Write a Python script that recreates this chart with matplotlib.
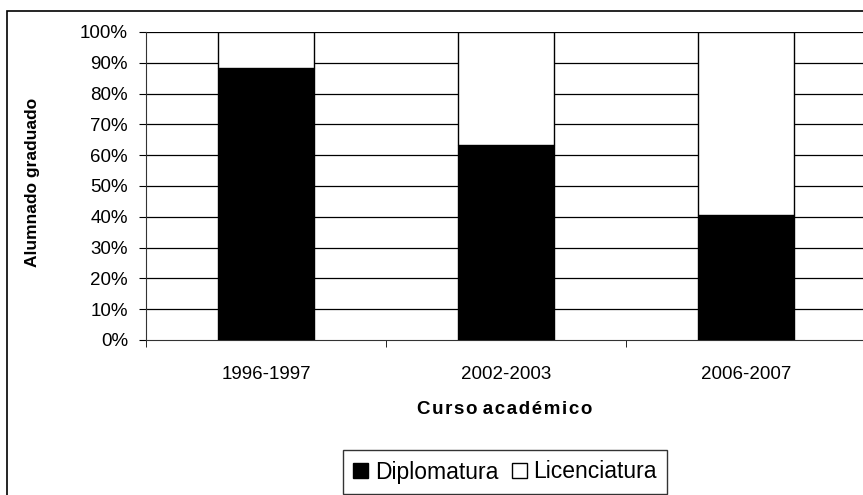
import matplotlib
matplotlib.use('Agg')
import matplotlib.pyplot as plt
from matplotlib.patches import Patch, Rectangle

plt.rcParams['font.family'] = ['Liberation Sans', 'DejaVu Sans']

# Datos
cursos = ['1996-1997', '2002-2003', '2006-2007']
diplomatura = [88.3, 63.2, 40.7]
licenciatura = [100 - v for v in diplomatura]
y_ticks = list(range(0, 101, 10))
y_labels = [f'{t}%' for t in y_ticks]

fig = plt.figure(figsize=(8.63, 4.95), dpi=100)
W, H = 863, 495
ax = fig.add_axes([146 / W, 1 - 340 / H, 720 / W, 308 / H])

# Marco exterior del gráfico
fig.patches.append(Rectangle((7 / W, -0.1), 1.2, 1 - 11 / H + 0.1,
                             transform=fig.transFigure, fill=False,
                             edgecolor='black', linewidth=1.2))

x = [i + 0.5 for i in range(len(cursos))]
ax.bar(x, diplomatura, width=0.4, color='black', edgecolor='black',
       linewidth=1, zorder=3)
ax.bar(x, licenciatura, width=0.4, bottom=diplomatura, color='white',
       edgecolor='black', linewidth=1, zorder=3)

ax.set_xlim(0, 3)
ax.set_ylim(0, 100)
ax.set_yticks(y_ticks)
ax.set_yticklabels(y_labels, fontsize=13.5)
ax.set_xticks(x)
ax.set_xticklabels(cursos, fontsize=13.5)
ax.set_xticks([0, 1, 2, 3], minor=True)
ax.tick_params(axis='x', which='major', length=0, pad=19)
ax.tick_params(axis='x', which='minor', length=5, direction='out')
ax.tick_params(axis='y', length=5, direction='out', pad=8)

for t in y_ticks[1:]:
    ax.axhline(t, color='black', linewidth=0.9, zorder=1)

for s in ['top', 'right']:
    ax.spines[s].set_visible(False)
ax.spines['left'].set_color('#333333')
ax.spines['bottom'].set_color('#333333')

fig.text(505 / W, 1 - 409 / H, 'C u r s o  a c a d é m i c o'.replace(' ', '\u200a').replace('\u200a\u200a', ' '),
         fontsize=13.5, fontweight='bold', ha='center', va='center')
fig.text(33 / W, 1 - 182 / H, 'Alumnado graduado', fontsize=12.5,
         fontweight='bold', ha='center', va='center', rotation=90)

handles = [Patch(facecolor='black', edgecolor='black', label='Diplomatura'),
           Patch(facecolor='white', edgecolor='black', label='Licenciatura')]
leg = fig.legend(handles=handles, loc='center', bbox_to_anchor=(505 / W, 1 - 472 / H),
                 ncol=2, fontsize=16.5, frameon=True, fancybox=False,
                 handlelength=0.65, handleheight=0.65, handletextpad=0.3,
                 columnspacing=0.6, borderpad=0.45, borderaxespad=0)
leg.get_frame().set_edgecolor('black')
leg.get_frame().set_linewidth(1)

fig.savefig('out.png', dpi=100)
